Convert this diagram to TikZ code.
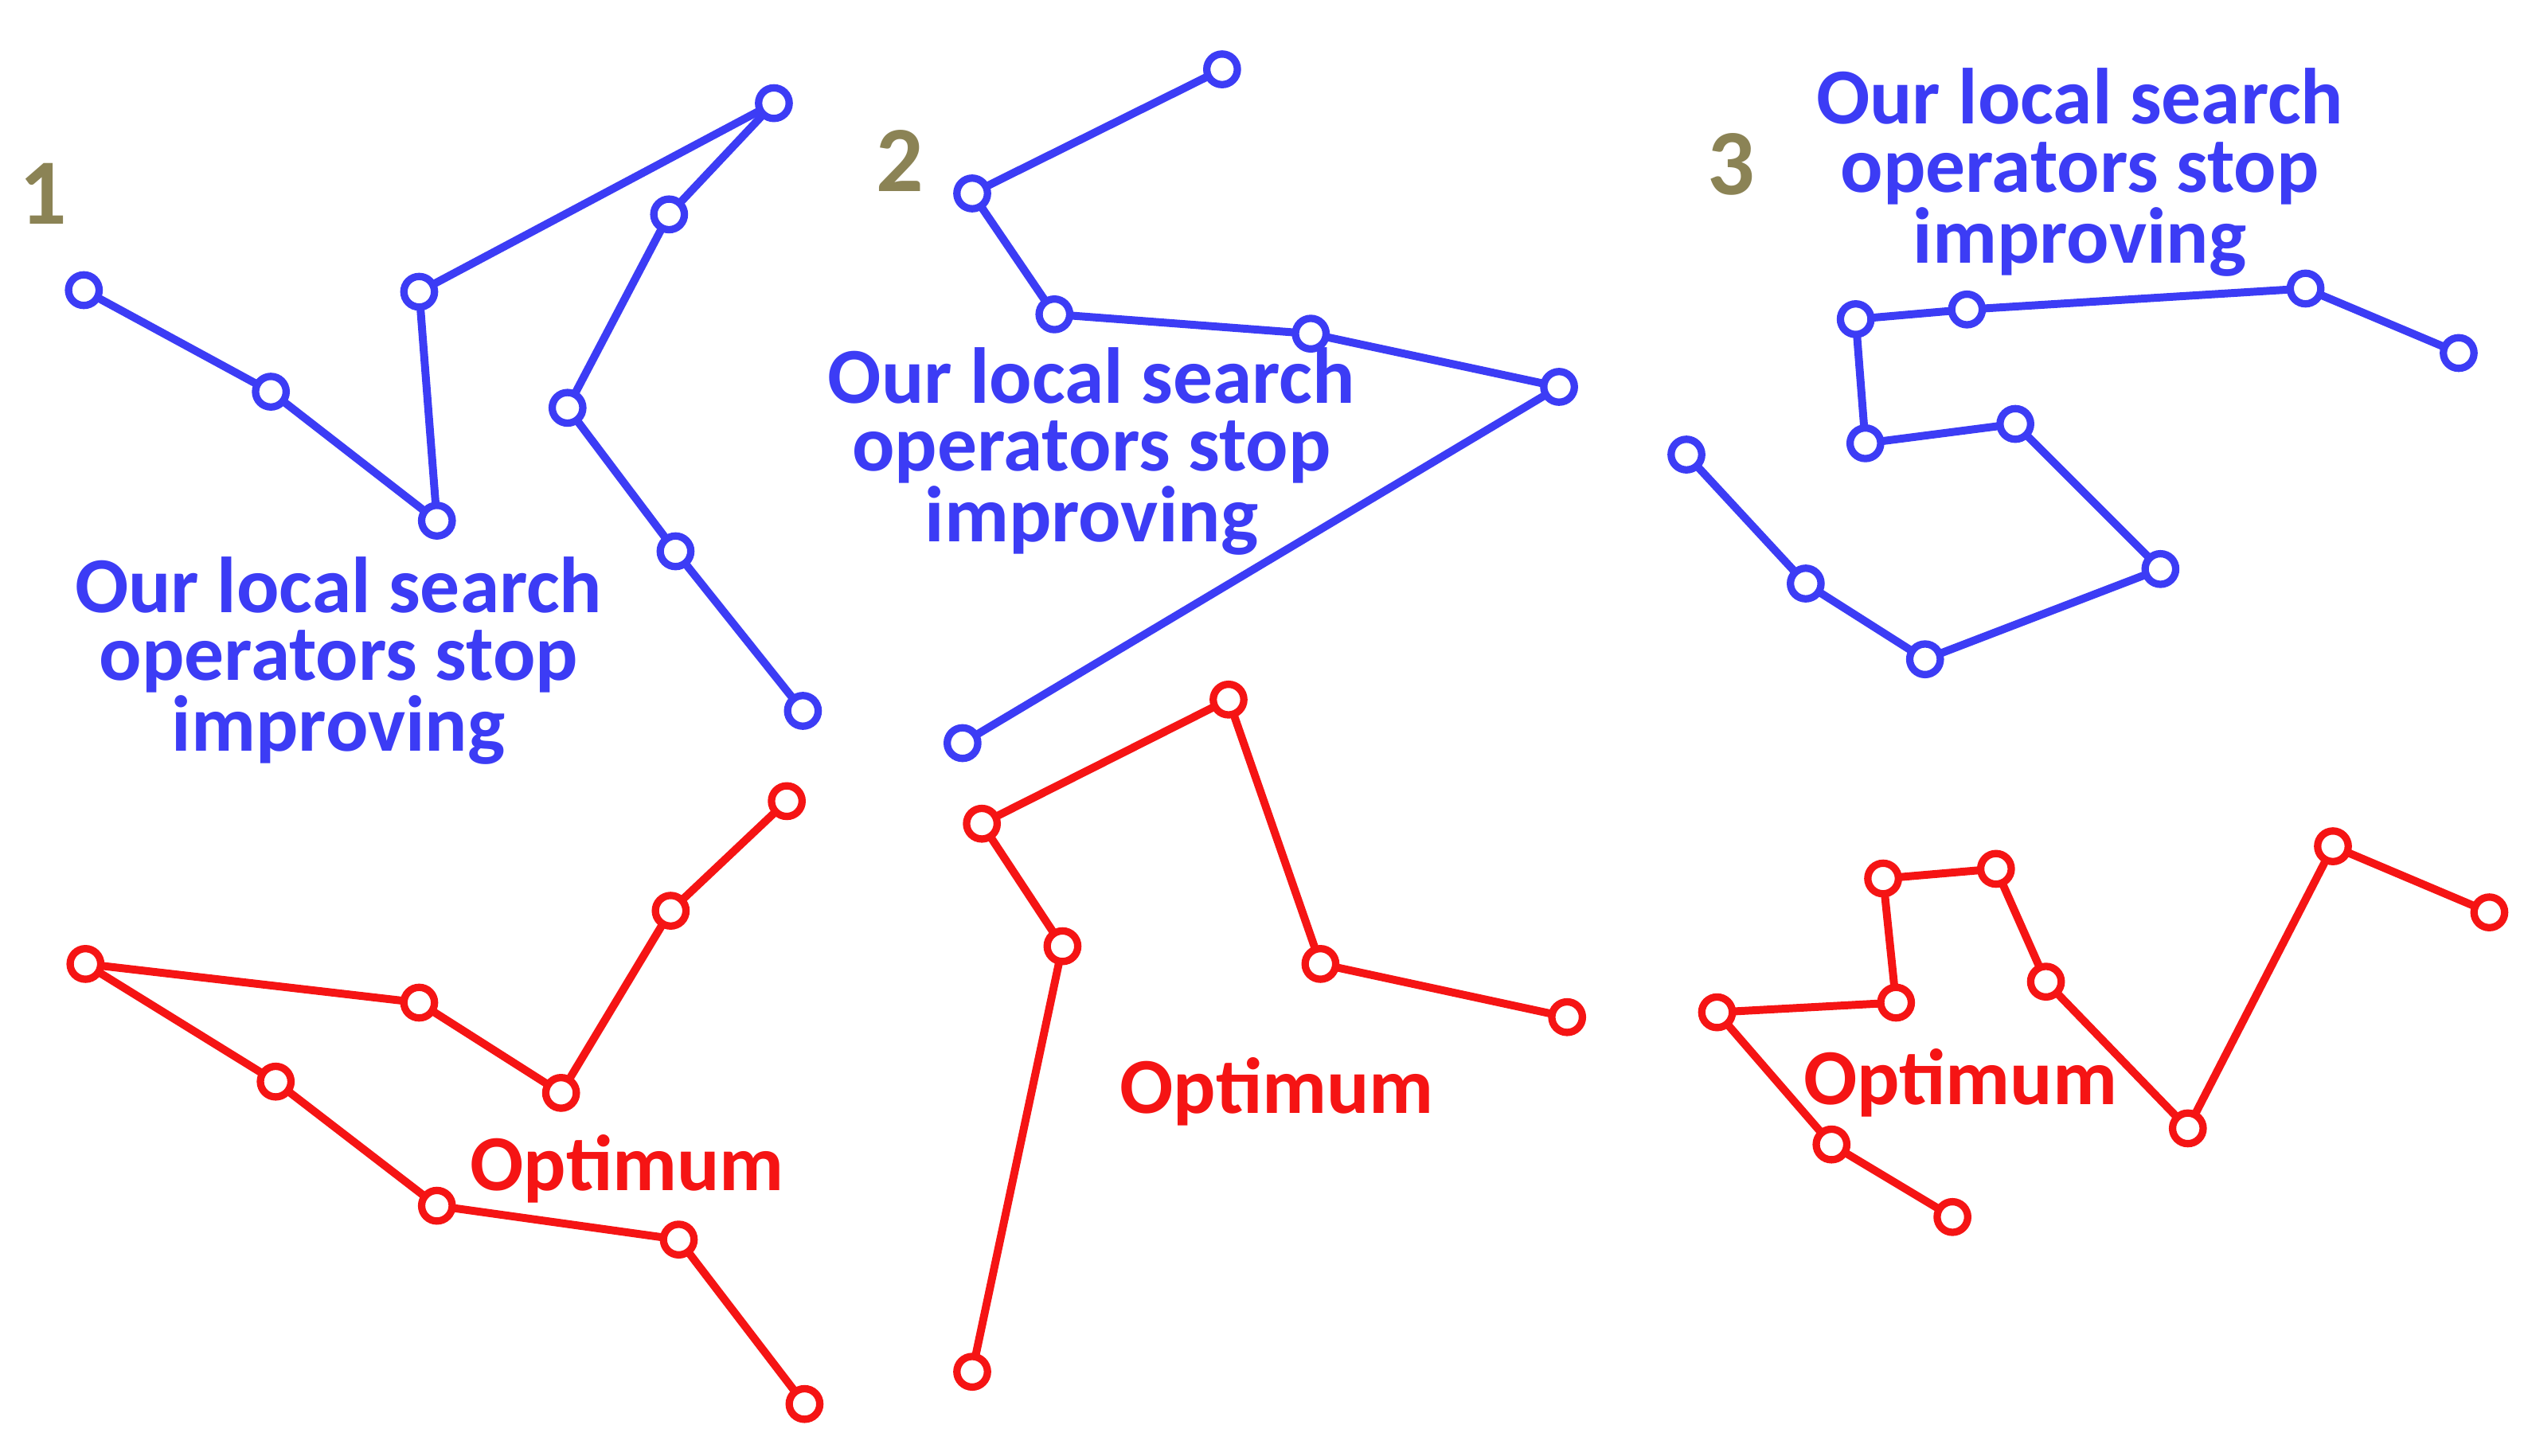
\documentclass[tikz,border=0pt]{standalone}
\usepackage{fontspec}
\setmainfont{Carlito}
\definecolor{bl}{RGB}{60,60,245}
\definecolor{rd}{RGB}{245,20,20}
\definecolor{ol}{RGB}{139,131,85}
\tikzset{pt/.style={circle,draw,fill=white,line width=2.6pt,minimum size=0.38cm,inner sep=0pt},
 edge/.style={line width=2.8pt},
 lbl/.style={font=\bfseries\fontsize{28}{24}\selectfont,align=center},
 num/.style={font=\bfseries\fontsize{33}{33}\selectfont,text=ol}}
\newcommand{\chain}[3]{% name, colour, list
 \foreach \xx/\yy [count=\i] in {#3} {\coordinate (#1\i) at (\xx,\yy);}
 \foreach \xx/\yy [count=\i] in {#3} {\ifnum\i>1 \pgfmathtruncatemacro{\j}{\i-1}\draw[edge,#2] (#1\j) -- (#1\i);\fi}
 \foreach \xx/\yy [count=\i] in {#3} {\node[pt,draw=#2] (#1n\i) at (#1\i) {};}}
\begin{document}
\begin{tikzpicture}[x=0.02cm,y=-0.02cm]
\useasboundingbox (0,0) rectangle (1568,903);
\chain{a}{bl}{52/180,168/243,271/323,260/181,480/64,415/133,352/253,419/342,498/441}
\chain{b}{rd}{488/497,416/565,348/678,260/622,53/598,171/671,271/748,421/769,499/871}
\chain{c}{bl}{758/43,603/120,654/195,813/207,967/240,597/461}
\chain{d}{rd}{972/631,819/598,762/434,609/511,659/587,603/851}
\chain{e}{bl}{1525/219,1430/179,1220/192,1151/198,1157/275,1250/263,1340/353,1194/409,1120/362,1046/282}
\chain{f}{rd}{1544/566,1447/525,1357/700,1269/609,1238/539,1168/545,1176/622,1065/628,1136/710,1211/755}
\node[lbl,text=bl] (t1) at (210,410) {Our local search\\operators stop\\improving};
\node[lbl,text=bl] (t2) at (677,280) {Our local search\\operators stop\\improving};
\node[lbl,text=bl] (t3) at (1290,107) {Our local search\\operators stop\\improving};
\node[lbl,text=rd] (o1) at (389,725) {Optimum};
\node[lbl,text=rd] (o2) at (792,677) {Optimum};
\node[lbl,text=rd] (o3) at (1216,672) {Optimum};
\node[num] (n1) at (27,120) {1};
\node[num] (n2) at (558,100) {2};
\node[num] (n3) at (1074,102) {3};
\end{tikzpicture}
\end{document}
